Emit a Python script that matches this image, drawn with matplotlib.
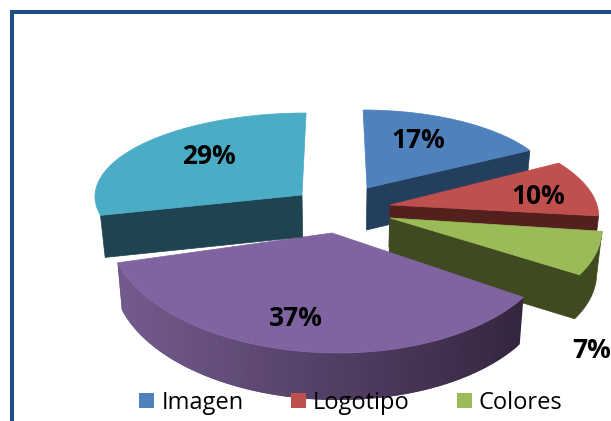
import numpy as np
import matplotlib
matplotlib.use('Agg')
import matplotlib.pyplot as plt
from matplotlib.patches import Polygon, Patch

labels = ['Imagen', 'Logotipo', 'Colores', 'Otros', 'Varios']
values = [17, 10, 7, 37, 29]

# look of each slice, in picture pixels
top_colors = ['#4f81bd', '#c0504d', '#9bbb59', '#8064a2', '#4bacc6']
wall_colors = ['#243e5e', '#54201e', '#404a20', '#35263f', '#1f4350']
apex_x = [367, 390, 390, 332, 302]
apex_y = [188, 205, 218, 233, 195]
rad_x = [188, 207, 211, 223, 207]
rad_y = [78, 87, 106, 120, 82]
shear = [0.05, 0.3, 0.2, 0.05, -0.05]
depth = [42, 42, 44, 47, 42]
label_xy = [(418, 140), (538, 197), (592, 350), (296, 318), (209, 156)]


def rim(i, t):
    t = np.radians(t)
    dy = -rad_y[i] * np.cos(t)
    x = apex_x[i] + rad_x[i] * np.sin(t) + shear[i] * dy
    return x, apex_y[i] + dy


def drop(i, x, y):
    # bottom edge of the wall, pulled in a little towards the middle
    return x + (335 - x) * 0.02, y + depth[i]


def cut_wall(i, t):
    x, y = rim(i, t)
    xb, yb = drop(i, x, y)
    ax0, ay0 = apex_x[i], apex_y[i]
    ax1, ay1 = drop(i, ax0, ay0)
    ax.add_patch(Polygon([(ax0, ay0), (x, y), (xb, yb), (ax1, ay1)],
                         fc=wall_colors[i], ec=wall_colors[i], lw=0.5))


def top(i, t0, t1):
    x, y = rim(i, np.linspace(t0, t1, 80))
    pts = [(apex_x[i], apex_y[i])] + list(zip(x, y))
    ax.add_patch(Polygon(pts, fc=top_colors[i], ec=top_colors[i], lw=0.5))


fig = plt.figure(figsize=(6.11, 4.21), dpi=100)
ax = fig.add_axes([0, 0, 1, 1])
ax.set_xlim(0, 611)
ax.set_ylim(421, 0)
ax.axis('off')

ends = np.cumsum(values) / np.sum(values) * 360
starts = np.concatenate([[0], ends[:-1]])

# chart border, only the top and left show
ax.plot([11.5, 11.5, 611], [421, 11.5, 11.5], color='#1f4e85', lw=2.9,
        solid_joinstyle='miter')

# Imagen
cut_wall(0, ends[0])
top(0, starts[0], ends[0])

# Logotipo
cut_wall(1, ends[1])
top(1, starts[1], ends[1])

# Colores, side wall runs round the outside too
x, y = rim(2, np.linspace(starts[2], ends[2], 40))
xb, yb = drop(2, x, y)
ax.add_patch(Polygon(list(zip(x, y)) + list(zip(xb, yb))[::-1],
                     fc=wall_colors[2], ec=wall_colors[2], lw=0.5))
cut_wall(2, ends[2])
top(2, starts[2], ends[2])

# Purple one, outer wall gets lighter to the left
steps = 120
ts = np.linspace(starts[3], ends[3], steps + 1)
c_dark = np.array(matplotlib.colors.to_rgb('#35263f'))
c_light = np.array(matplotlib.colors.to_rgb('#735a8e'))
for j in range(steps):
    # each strip runs under the next one so no seams show
    x, y = rim(3, ts[j:j + 3])
    xb, yb = drop(3, x, y)
    f = np.clip((523 - x[0]) / 400, 0, 1)
    col = c_dark + (c_light - c_dark) * f
    ax.add_patch(Polygon([(x[0], y[0]), (x[-1], y[-1]), (xb[-1], yb[-1]), (xb[0], yb[0])],
                         fc=col, ec='none', lw=0))
top(3, starts[3], ends[3])

# Teal one sits over the purple
cut_wall(4, starts[4])
top(4, starts[4], ends[4])

for v, (lx, ly) in zip(values, label_xy):
    ax.text(lx, ly, f'{v}%', ha='center', va='center', fontsize=19,
            fontweight='bold', family='Open Sans', color='black')

handles = [Patch(fc=top_colors[i], label=labels[i]) for i in range(3)]
ax.legend(handles=handles, ncol=3, frameon=False, loc='center',
          bbox_to_anchor=(351 / 611, 1 - 403 / 421),
          prop={'family': 'Open Sans', 'size': 17}, handlelength=0.636, handleheight=0.636,
          handletextpad=0.3, columnspacing=2.0, borderpad=0, borderaxespad=0)

fig.savefig('out.png', dpi=100)
